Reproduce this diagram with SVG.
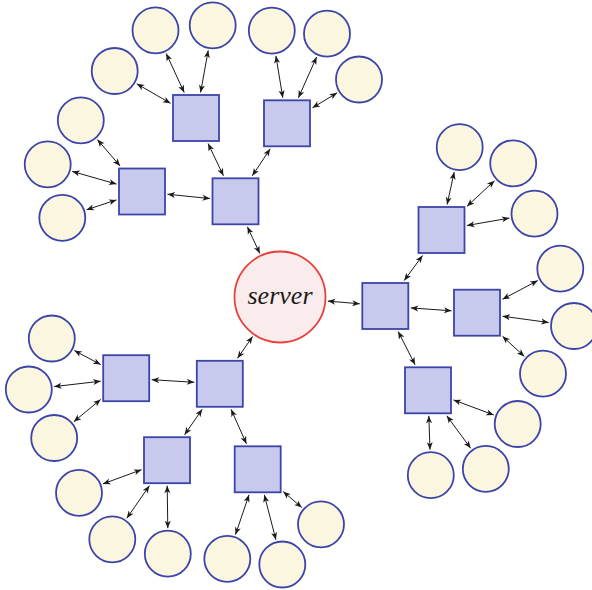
<svg xmlns="http://www.w3.org/2000/svg" width="592" height="590" viewBox="0 0 592 590">
  <style>
    .client { fill: #fbf6e0; stroke: #3c44a8; stroke-width: 1.8; }
    .router { fill: #c8caed; stroke: #3c44a8; stroke-width: 1.8; }
    .server { fill: #faecec; stroke: #e8413c; stroke-width: 1.8; }
    #links line { stroke: #1a1a1a; stroke-width: 1; marker-start: url(#tip); marker-end: url(#tip); }
  </style>
  <defs>
    <marker id="tip" markerUnits="userSpaceOnUse" viewBox="-9 -4 10 8" refX="0" refY="0" markerWidth="10" markerHeight="8" orient="auto-start-reverse">
      <path d="M0,0 L-7.5,-3 L-5.5,0 L-7.5,3 Z" fill="#1a1a1a"/>
    </marker>
  </defs>

  <rect width="592" height="590" fill="#ffffff"/>

  <!-- connectors -->
  <g id="links">
    <!-- server to hubs -->
    <line x1="259.8" y1="253.5" x2="247.4" y2="226.8"/>
    <line x1="327.8" y1="301.1" x2="359.8" y2="303.8"/>
    <line x1="252.6" y1="336.5" x2="237.5" y2="358.3"/>
    <!-- upper-left hub -->
    <line x1="223.4" y1="175.8" x2="208.1" y2="143.5"/>
    <line x1="252.3" y1="175.8" x2="270.2" y2="148.8"/>
    <line x1="210" y1="198.6" x2="167.5" y2="194.2"/>
    <line x1="184.2" y1="92.5" x2="166.2" y2="53.5"/>
    <line x1="200.6" y1="92.5" x2="208.2" y2="50.4"/>
    <line x1="170.5" y1="103.3" x2="136.8" y2="83.8"/>
    <line x1="282.8" y1="97.8" x2="275.9" y2="55.8"/>
    <line x1="298.4" y1="97.8" x2="316.6" y2="57"/>
    <line x1="312.5" y1="107.8" x2="337.2" y2="92.8"/>
    <line x1="120.1" y1="166" x2="97.4" y2="139.6"/>
    <line x1="116.5" y1="184.1" x2="72.2" y2="171.4"/>
    <line x1="116.5" y1="199.9" x2="86.5" y2="209.8"/>
    <!-- right hub -->
    <line x1="404.2" y1="280.5" x2="422.6" y2="255.5"/>
    <line x1="410.8" y1="307.9" x2="451.5" y2="310.8"/>
    <line x1="398.2" y1="331.5" x2="415.1" y2="364.8"/>
    <line x1="447.1" y1="204.5" x2="454.2" y2="172.1"/>
    <line x1="467" y1="206.3" x2="494.5" y2="180.7"/>
    <line x1="467" y1="225.5" x2="509.4" y2="218.1"/>
    <line x1="502.5" y1="299.2" x2="537.8" y2="280.6"/>
    <line x1="502.5" y1="316.2" x2="548.7" y2="322.5"/>
    <line x1="502.5" y1="336.3" x2="524.3" y2="356.4"/>
    <line x1="453.5" y1="399.9" x2="493.8" y2="415"/>
    <line x1="446.8" y1="415.8" x2="470.7" y2="448.3"/>
    <line x1="428.8" y1="415.8" x2="430" y2="449.7"/>
    <!-- lower-left hub -->
    <line x1="194.3" y1="382.3" x2="151.7" y2="379.7"/>
    <line x1="202.2" y1="409.3" x2="184.6" y2="434.7"/>
    <line x1="231.1" y1="409.3" x2="246.4" y2="443.8"/>
    <line x1="100.7" y1="364.6" x2="74.3" y2="350.5"/>
    <line x1="100.7" y1="381.2" x2="54.1" y2="386.6"/>
    <line x1="100.7" y1="399.4" x2="73.8" y2="421.7"/>
    <line x1="141.5" y1="469.7" x2="102.9" y2="483.9"/>
    <line x1="149.4" y1="485.7" x2="126.8" y2="518.3"/>
    <line x1="167.2" y1="485.7" x2="167.8" y2="528.2"/>
    <line x1="249" y1="494.8" x2="235.5" y2="534.6"/>
    <line x1="264.3" y1="494.8" x2="275.9" y2="539.8"/>
    <line x1="283.2" y1="491.5" x2="301.8" y2="507.6"/>
  </g>

  <!-- server -->
  <g id="server">
    <circle class="server" cx="280" cy="297" r="45.5"/>
    <text x="280" y="303.5" text-anchor="middle" font-family="'Liberation Serif', 'Times New Roman', serif" font-style="italic" font-size="26" fill="#1a1a1a" textLength="65" lengthAdjust="spacing">server</text>
  </g>

  <!-- routers -->
  <g id="hub-ul"><rect class="router" x="212.5" y="178.3" width="46" height="46"/></g>
  <g id="router-a"><rect class="router" x="173" y="95" width="46" height="46"/></g>
  <g id="router-b"><rect class="router" x="264" y="100.3" width="46" height="46"/></g>
  <g id="router-c"><rect class="router" x="119" y="168.5" width="46" height="46"/></g>
  <g id="hub-r"><rect class="router" x="362.3" y="283" width="46" height="46"/></g>
  <g id="router-e"><rect class="router" x="418.5" y="207" width="46" height="46"/></g>
  <g id="router-g"><rect class="router" x="454" y="289.7" width="46" height="46"/></g>
  <g id="router-h"><rect class="router" x="405" y="367.3" width="46" height="46"/></g>
  <g id="hub-ll"><rect class="router" x="196.8" y="360.8" width="46" height="46"/></g>
  <g id="router-i"><rect class="router" x="103.2" y="355.2" width="46" height="46"/></g>
  <g id="router-k"><rect class="router" x="144" y="437.2" width="46" height="46"/></g>
  <g id="router-l"><rect class="router" x="234.7" y="446.3" width="46" height="46"/></g>

  <!-- clients -->
  <g id="client-a1"><circle class="client" cx="155.5" cy="30.3" r="23"/></g>
  <g id="client-a2"><circle class="client" cx="212.7" cy="25.3" r="23"/></g>
  <g id="client-a3"><circle class="client" cx="114.7" cy="71" r="23"/></g>
  <g id="client-b1"><circle class="client" cx="271.8" cy="30.6" r="23"/></g>
  <g id="client-b2"><circle class="client" cx="327" cy="33.7" r="23"/></g>
  <g id="client-b3"><circle class="client" cx="359" cy="79.5" r="23"/></g>
  <g id="client-c1"><circle class="client" cx="80.8" cy="120.3" r="23"/></g>
  <g id="client-c2"><circle class="client" cx="47.7" cy="164.3" r="23"/></g>
  <g id="client-c3"><circle class="client" cx="62.3" cy="217.8" r="23"/></g>
  <g id="client-e1"><circle class="client" cx="459.7" cy="147.2" r="23"/></g>
  <g id="client-e2"><circle class="client" cx="513.2" cy="163.3" r="23"/></g>
  <g id="client-e3"><circle class="client" cx="534.5" cy="213.7" r="23"/></g>
  <g id="client-g1"><circle class="client" cx="560.3" cy="268.7" r="23"/></g>
  <g id="client-g2"><circle class="client" cx="574" cy="326" r="23"/></g>
  <g id="client-g3"><circle class="client" cx="543" cy="373.7" r="23"/></g>
  <g id="client-h1"><circle class="client" cx="517.7" cy="424" r="23"/></g>
  <g id="client-h2"><circle class="client" cx="485.8" cy="468.8" r="23"/></g>
  <g id="client-h3"><circle class="client" cx="430.8" cy="475.2" r="23"/></g>
  <g id="client-i1"><circle class="client" cx="51.8" cy="338.5" r="23"/></g>
  <g id="client-i2"><circle class="client" cx="28.8" cy="389.5" r="23"/></g>
  <g id="client-i3"><circle class="client" cx="54.2" cy="438" r="23"/></g>
  <g id="client-k1"><circle class="client" cx="79" cy="492.8" r="23"/></g>
  <g id="client-k2"><circle class="client" cx="112.3" cy="539.3" r="23"/></g>
  <g id="client-k3"><circle class="client" cx="167.8" cy="553.7" r="23"/></g>
  <g id="client-l1"><circle class="client" cx="227.3" cy="558.8" r="23"/></g>
  <g id="client-l2"><circle class="client" cx="282.3" cy="564.5" r="23"/></g>
  <g id="client-l3"><circle class="client" cx="321" cy="524.3" r="23"/></g>
</svg>
